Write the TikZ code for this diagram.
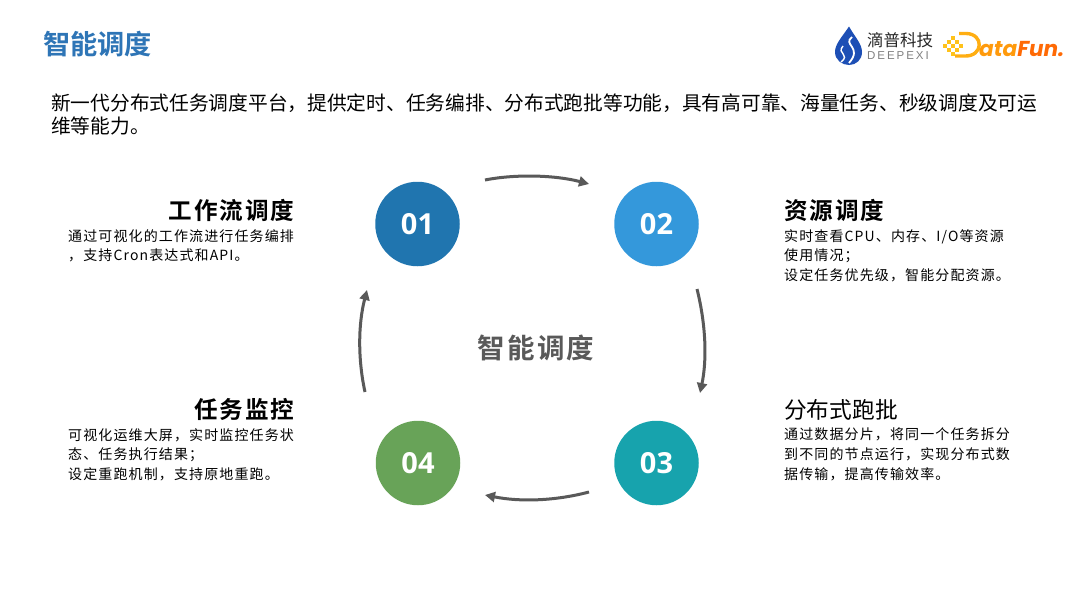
\documentclass[tikz,border=0pt]{standalone}
\usepackage{fontspec}
\setmainfont{Noto Sans CJK SC}
\newfontfamily\cjkreg[LetterSpace=8]{Noto Sans CJK SC}
\newfontfamily\cjkbold[LetterSpace=8]{Noto Sans CJK SC Bold}
\newfontfamily\cjkplain{Noto Sans CJK SC}
\newfontfamily\cjkboldplain{Noto Sans CJK SC Bold}
\newfontfamily\numfont{Open Sans}
\newfontfamily\logofont{Poppins}
\newfontfamily\latinlogo[LetterSpace=17]{Liberation Sans}
\definecolor{titleblue}{HTML}{2E75B6}
\definecolor{cA}{HTML}{2075AF}
\definecolor{cB}{HTML}{3498DB}
\definecolor{cC}{HTML}{17A3AD}
\definecolor{cD}{HTML}{68A358}
\definecolor{arrowgray}{HTML}{595959}
\definecolor{logoblue}{HTML}{1D4FB5}
\definecolor{dfyellow}{HTML}{FFC21A}
\definecolor{dfmid}{HTML}{FFAE12}
\definecolor{dforange}{HTML}{FF9A0C}
\definecolor{dfdeep}{HTML}{FF6A05}
\usetikzlibrary{arrows.meta}
\tikzset{
  stepcircle/.style={circle,minimum size=84.5pt,inner sep=0pt,text=white,font={\numfont\bfseries\fontsize{29}{29}\selectfont}},
  flowarrow/.style={draw=arrowgray,line width=3pt,-{Triangle[length=10pt,width=10pt]}},
  headr/.style={anchor=east,inner sep=0pt,font={\cjkbold\fontsize{23.6}{23.6}\selectfont}},
  headl/.style={anchor=west,inner sep=0pt,font={\cjkbold\fontsize{23.6}{23.6}\selectfont}},
  desc/.style={anchor=north west,inner sep=0pt,align=left,font={\cjkreg\fontsize{14}{19.6}\selectfont}},
}
\begin{document}
\begin{tikzpicture}[x=1pt,y=-1pt]
\useasboundingbox (0,0) rectangle (1080,608);
\fill[white] (0,0) rectangle (1080,608);
% title
\node[anchor=west,inner sep=0pt,text=titleblue,font={\cjkboldplain\fontsize{27.2}{27.2}\selectfont}] (title) at (43,44) {智能调度};
\node[anchor=north west,inner sep=0pt,align=left,font={\cjkplain\fontsize{19.72}{23}\selectfont}] (intro) at (51,94)
 {新一代分布式任务调度平台，提供定时、任务编排、分布式跑批等功能，具有高可靠、海量任务、秒级调度及可运\\维等能力。};
% circles
\node[stepcircle,fill=cA] (n1) at (417.5,224) {01};
\node[stepcircle,fill=cB] (n2) at (656.5,224) {02};
\node[stepcircle,fill=cC] (n3) at (656.5,463) {03};
\node[stepcircle,fill=cD] (n4) at (418,463) {04};
\node[text=arrowgray,inner sep=0pt,font={\cjkbold\fontsize{27.5}{27.5}\selectfont}] (centre) at (536,348) {智能调度};
% arrows
\coordinate (a1s) at (485,180); \coordinate (a1e) at (589,184);
\coordinate (a2s) at (697,289); \coordinate (a2e) at (700,393);
\coordinate (a3s) at (589,492); \coordinate (a3e) at (485,495);
\coordinate (a4s) at (365,392); \coordinate (a4e) at (367,290);
\draw[flowarrow] (a1s) .. controls (515,174) and (555,175) .. (a1e);
\draw[flowarrow] (a2s) .. controls (706,325) and (707,360) .. (a2e);
\draw[flowarrow] (a3s) .. controls (555,501) and (520,502) .. (a3e);
\draw[flowarrow] (a4s) .. controls (358,360) and (358,325) .. (a4e);
% headings and descriptions
\node[headr] (h1) at (294.5,210.5) {工作流调度};
\node[desc] (d1) at (68,229) {通过可视化的工作流进行任务编排\\，支持Cron表达式和API。};
\node[headl] (h2) at (784,210.5) {资源调度};
\node[desc] (d2) at (784,229) {实时查看CPU、内存、I/O等资源\\使用情况；\\设定任务优先级，智能分配资源。};
\node[anchor=west,inner sep=0pt,font={\cjkplain\fontsize{22.7}{22.7}\selectfont}] (h3) at (784,410) {分布式跑批};
\node[desc] (d3) at (784,428) {通过数据分片，将同一个任务拆分\\到不同的节点运行，实现分布式数\\据传输，提高传输效率。};
\node[headr] (h4) at (294.5,409.5) {任务监控};
\node[desc] (d4) at (68,428) {可视化运维大屏，实时监控任务状\\态、任务执行结果；\\设定重跑机制，支持原地重跑。};
% logo 1
\fill[logoblue] (849,26.5) .. controls (842,37) and (835,44) .. (835,52) .. controls (835,60) and (842,65) .. (849,65) .. controls (856,65) and (862,60) .. (862,52) .. controls (862,44) and (855,37) .. (849,26.5) -- cycle;
\draw[white,line width=1.8pt] (852,37) .. controls (842,45) and (863,47) .. (849,63);
\draw[white,line width=1.4pt] (843,46) .. controls (836,54) and (851,54) .. (841,62);
\node[anchor=west,inner sep=0pt,font={\cjkplain\fontsize{16.5}{16.5}\selectfont},text=black!85] (lg1) at (867,40) {滴普科技};
\node[anchor=west,inner sep=0pt,text=black!50,font={\latinlogo\fontsize{11.5}{11.5}\selectfont}] (lg2) at (867,56) {DEEPEXI};
% logo 2
\foreach \x/\y in {945/46,949/42,953/38,949/50,953/46,957/42,953/54,957/50,961/46}
  {\fill[dfyellow] (\x-1.7,\y-1.7) rectangle (\x+1.7,\y+1.7);}
\draw[dfmid,line width=3.4pt] (959,33.5) -- (966,33.5) .. controls (984,33.5) and (984,57) .. (964,56) -- (955,56);
\node[anchor=west,inner sep=0pt,font={\logofont\bfseries\itshape\fontsize{21.6}{21.6}\selectfont}] (lg3) at (979,49) {\textcolor{dforange}{ata}\textcolor{dfdeep}{Fun.}};
\end{tikzpicture}
\end{document}
